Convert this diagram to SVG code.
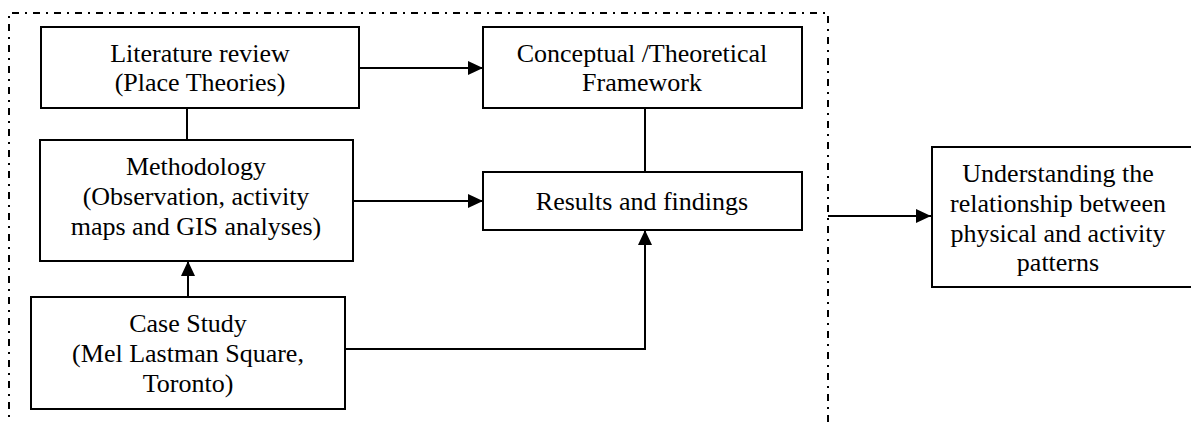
<svg xmlns="http://www.w3.org/2000/svg" width="1191" height="423" viewBox="0 0 1191 423">
  <style>
    .box { fill: #fff; stroke: #000; stroke-width: 2; }
    .frame { fill: none; stroke: #000; stroke-width: 2; stroke-dasharray: 7 6 2 6; }
    .link { fill: none; stroke: #000; stroke-width: 2; }
    .arrow { fill: none; stroke: #000; stroke-width: 2; marker-end: url(#head); }
    text { font-family: "Liberation Serif", "Times New Roman", serif; font-size: 26px; fill: #000; text-anchor: middle; }
  </style>
  <defs>
    <marker id="head" viewBox="0 0 15 14" refX="15" refY="7" markerWidth="15" markerHeight="14" markerUnits="userSpaceOnUse" orient="auto">
      <path d="M0,0 L15,7 L0,14 z" fill="#000"/>
    </marker>
  </defs>
  <rect width="1191" height="423" fill="#fff"/>

  <!-- dash-dot frame around the study process -->
  <path class="frame" d="M9,430 V13 H828 V430"/>

  <g id="connectors">
    <line class="arrow" x1="359" y1="68" x2="483" y2="68"/>
    <line class="link" x1="187" y1="108" x2="187" y2="140"/>
    <line class="link" x1="645" y1="108" x2="645" y2="172"/>
    <line class="arrow" x1="353" y1="201" x2="483" y2="201"/>
    <line class="arrow" x1="188" y1="297" x2="188" y2="261"/>
    <polyline class="arrow" points="345,349 645,349 645,230"/>
    <line class="arrow" x1="828" y1="216" x2="931" y2="216"/>
  </g>

  <g id="literature">
    <rect class="box" x="41" y="27" width="318" height="81"/>
    <text x="200" y="62">Literature review</text>
    <text x="200" y="91">(Place Theories)</text>
  </g>

  <g id="methodology">
    <rect class="box" x="40" y="140" width="313" height="121"/>
    <text x="196" y="175">Methodology</text>
    <text x="196" y="205">(Observation, activity</text>
    <text x="196" y="235">maps and GIS analyses)</text>
  </g>

  <g id="case-study">
    <rect class="box" x="31" y="297" width="314" height="112"/>
    <text x="188" y="332">Case Study</text>
    <text x="188" y="362">(Mel Lastman Square,</text>
    <text x="188" y="392">Toronto)</text>
  </g>

  <g id="framework">
    <rect class="box" x="483" y="27" width="319" height="81"/>
    <text x="642" y="62">Conceptual /Theoretical</text>
    <text x="642" y="91">Framework</text>
  </g>

  <g id="results">
    <rect class="box" x="483" y="172" width="319" height="58"/>
    <text x="642" y="210">Results and findings</text>
  </g>

  <g id="outcome">
    <rect class="box" x="932" y="147" width="270" height="140"/>
    <text x="1058" y="182">Understanding the</text>
    <text x="1058" y="212">relationship between</text>
    <text x="1058" y="242">physical and activity</text>
    <text x="1058" y="271">patterns</text>
  </g>
</svg>
